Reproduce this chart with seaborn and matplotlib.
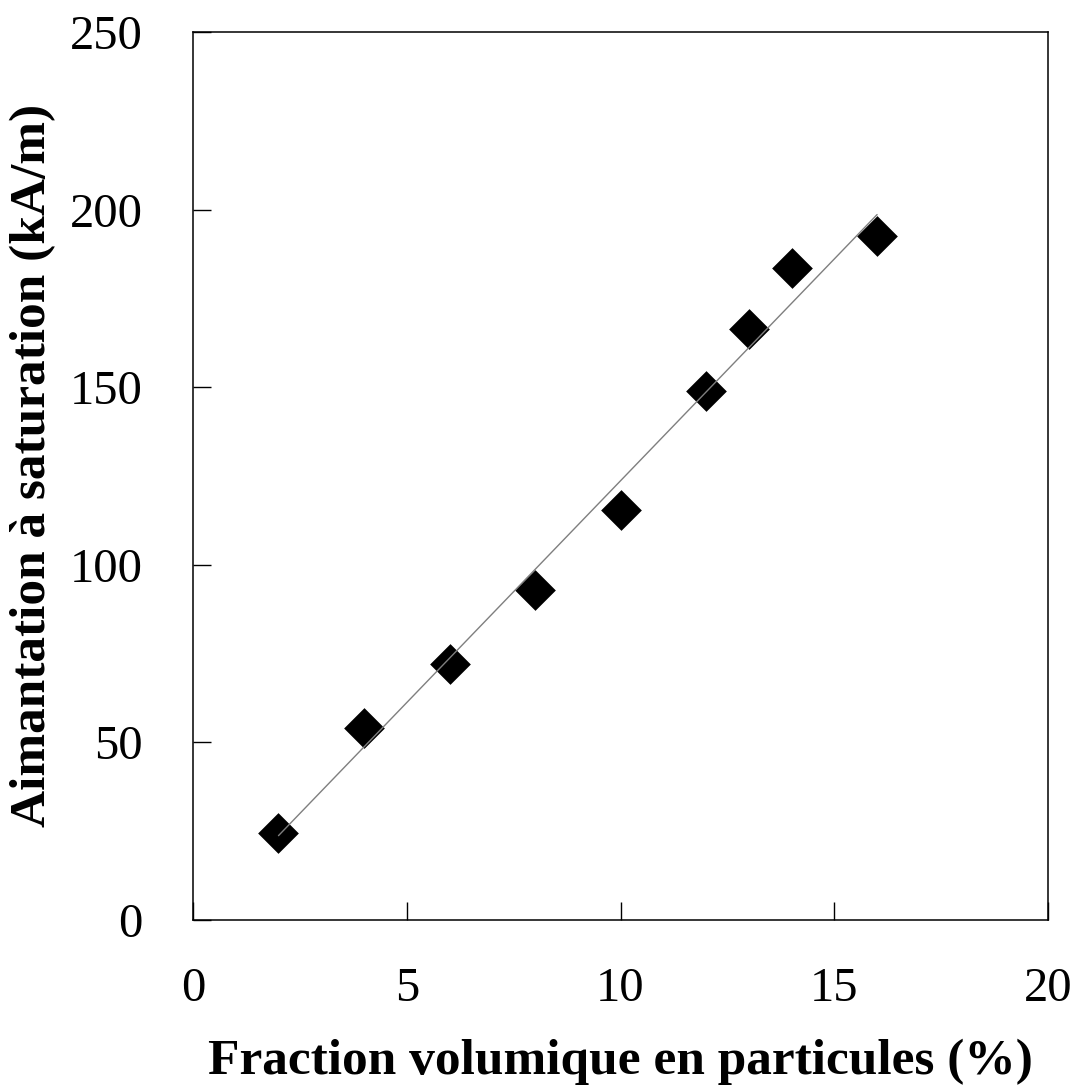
import numpy as np
import pandas as pd
import seaborn as sns
import matplotlib
matplotlib.use("Agg")
import matplotlib.pyplot as plt

# data
fraction = [2, 4, 6, 8, 10, 12, 13, 14, 16]
aimantation = [24.5, 54, 72, 93, 115.5, 149, 166.5, 183.5, 192.5]
x_ticks = [0, 5, 10, 15, 20]
y_ticks = [0, 50, 100, 150, 200, 250]

df = pd.DataFrame({"fraction": fraction, "aimantation": aimantation})

# linear fit over the measured range
slope, intercept = np.polyfit(df.fraction, df.aimantation, 1)
fit_x = np.array([min(fraction), max(fraction)])
fit = pd.DataFrame({"x": fit_x, "y": slope * fit_x + intercept})

sns.set_theme(style="white")
plt.rcParams['font.family'] = ['Liberation Serif', 'DejaVu Serif']
plt.rcParams['text.color'] = 'black'
plt.rcParams['axes.labelcolor'] = 'black'

fig = plt.figure(figsize=(10.75, 10.86), dpi=100)
ax = fig.add_axes([0.1795, 0.1529, 0.7955, 0.8176])

sns.lineplot(data=fit, x="x", y="y", ax=ax, color="#7f7f7f", linewidth=1.0)
sns.scatterplot(data=df, x="fraction", y="aimantation", ax=ax, marker="D",
                s=430, color="black", edgecolor="black", linewidth=0)

ax.set_xlim(0, 20)
ax.set_ylim(0, 250)
ax.set_xticks(x_ticks)
ax.set_yticks(y_ticks)
ax.tick_params(axis="both", direction="in", length=13, width=1.0,
               colors="black", labelsize=35, pad=34, bottom=True, left=True)
ax.tick_params(axis="y", pad=36)
for s in ax.spines.values():
    s.set_color("black")
    s.set_linewidth(1.1)

ax.set_xlabel("Fraction volumique en particules (%)", fontsize=37,
              fontweight="bold", labelpad=20, color="black")
ax.set_ylabel("Aimantation à saturation (kA/m)", fontsize=37,
              fontweight="bold", color="black")
ax.yaxis.set_label_coords(-0.16, 0.512)

fig.savefig("out.png", dpi=100)
